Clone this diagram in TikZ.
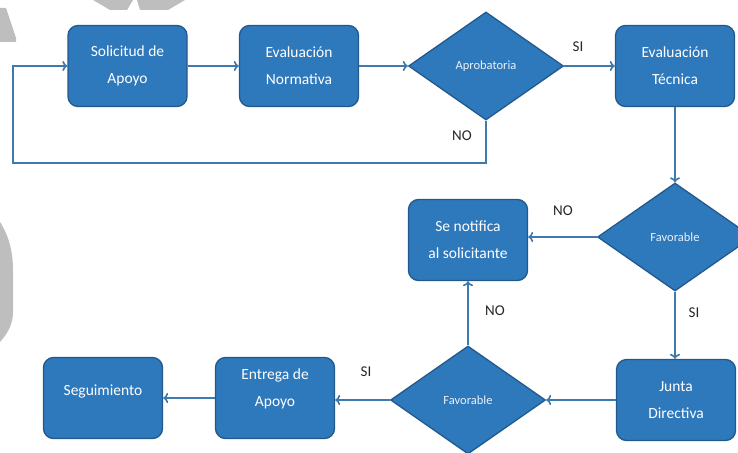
\documentclass[tikz,border=0pt]{standalone}
\usepackage{fontspec}
\setmainfont{Carlito}
\usetikzlibrary{shapes.geometric,arrows.meta}
\definecolor{boxfill}{HTML}{2E78BC}
\definecolor{boxline}{HTML}{22598C}
\definecolor{conn}{HTML}{3F7AAE}
\definecolor{wmark}{HTML}{BEBEBE}
\tikzset{
  procbox/.style={draw=boxline, line width=1.3pt, fill=boxfill, rounded corners=10pt,
    minimum width=119pt, minimum height=81pt, inner sep=0pt, align=center,
    text=white, font=\fontsize{15.5}{27}\selectfont},
  decbox/.style={draw=boxline, line width=1.3pt, fill=boxfill, diamond, aspect=1.4,
    minimum width=155pt, minimum height=108pt, inner sep=0pt,
    text=white!90!boxfill, font=\fontsize{12.5}{14}\selectfont},
  arr/.style={draw=conn, line width=1.6pt, -{To[length=5pt,width=10pt]}},
  lbl/.style={text=black!85, font=\fontsize{15}{17}\selectfont, inner sep=0pt},
}
\begin{document}
\begin{tikzpicture}[x=1pt,y=-1pt]
\useasboundingbox (0,0) rectangle (738,452);
% watermark remnants
\fill[wmark] (0,8) -- (6,8) -- (16,38) -- (16,42) -- (0,42) -- cycle;
\fill[wmark] (93,0) -- (133,0) -- (127,10) -- (110,10) -- cycle;
\fill[wmark] (137,0) -- (185,0) -- (168,10) -- (140,10) -- cycle;
\fill[wmark] (0,222) .. controls (9,236) and (13,252) .. (13,270) -- (13,312) .. controls (13,324) and (8,333) .. (0,342) -- cycle;
% nodes
\node[procbox] (sol) at (127.5,66) {Solicitud de\\Apoyo};
\node[procbox] (evn) at (299,66) {Evaluación\\Normativa};
\node[decbox] (apr) at (486,66) {Aprobatoria};
\node[procbox] (evt) at (675,66) {Evaluación\\Técnica};
\node[decbox] (fav1) at (675,237) {Favorable};
\node[procbox] (notif) at (468,240) {Se notifica\\al solicitante};
\node[procbox] (junta) at (676,400) {Junta\\Directiva};
\node[decbox] (fav2) at (468,400) {Favorable};
\node[procbox] (ent) at (275,398) {Entrega de\\Apoyo\rule[-20pt]{0pt}{1pt}};
\node[procbox] (seg) at (103,398) {Seguimiento\rule[-16pt]{0pt}{1pt}};
\coordinate (loopL) at (13,163);
% connectors
\draw[arr] (sol) -- (evn);
\draw[arr] (evn) -- (apr);
\draw[arr] (apr) -- (evt);
\draw[arr] (apr.south) |- (loopL) |- (sol.west);
\draw[arr] (evt.south) -- (evt.south |- fav1.north);
\draw[arr] (fav1.west) -- (fav1.west -| notif.east);
\draw[arr] (fav1.south) -- (fav1.south |- junta.north);
\draw[arr] (junta.west) -- (fav2.east);
\draw[arr] (fav2.north) -- (fav2.north |- notif.south);
\draw[arr] (fav2.west) -- (fav2.west -| ent.east);
\draw[arr] (ent) -- (seg);
% labels
\node[lbl] (lsi1) at (578,47) {SI};
\node[lbl] (lno1) at (462,136) {NO};
\node[lbl] (lno2) at (563,211) {NO};
\node[lbl] (lsi2) at (694,313) {SI};
\node[lbl] (lno3) at (495,311) {NO};
\node[lbl] (lsi3) at (366,372) {SI};
\end{tikzpicture}
\end{document}
